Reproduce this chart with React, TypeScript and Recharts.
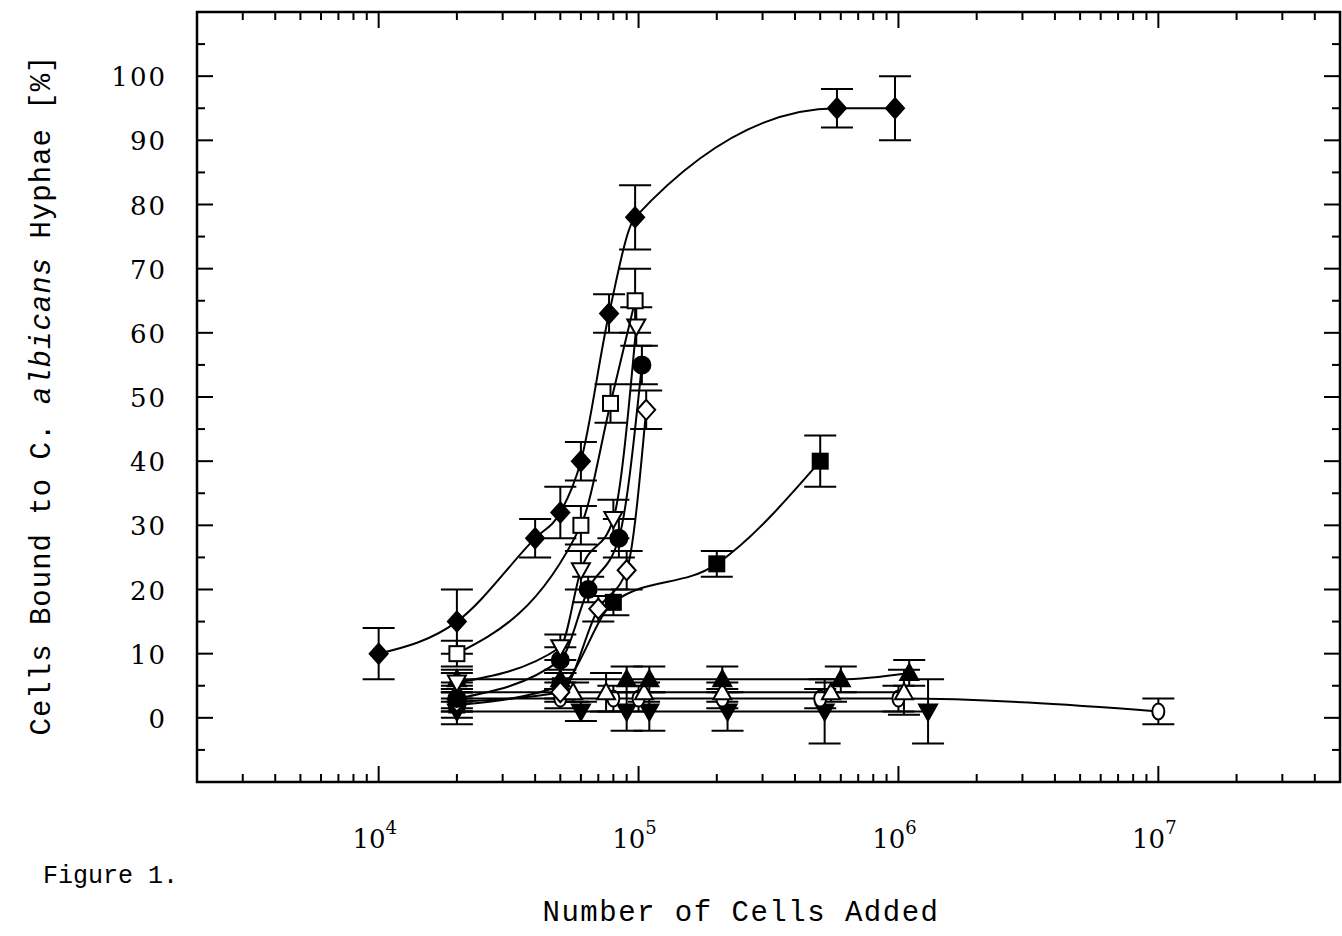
import React from "react";
import {
  ScatterChart,
  Scatter,
  XAxis,
  YAxis,
  ErrorBar,
  ReferenceArea,
} from "recharts";

const W = 1342;
const H = 936;
// plot frame in page pixels
const LEFT = 197;
const RIGHT = 1340;
const TOP = 12;
const BOTTOM = 782;
const PLOT_H = BOTTOM - TOP;

const X_DOMAIN = [2000, 5e7];
const Y_DOMAIN = [-10, 110];
const X_MAJOR = [1e4, 1e5, 1e6, 1e7];
const X_MAJOR_EXP = ["4", "5", "6", "7"];
const X_MINOR_MULT = [2, 3, 4, 5, 6, 7, 8, 9];
const X_DECADES = [1e3, 1e4, 1e5, 1e6, 1e7];
const Y_TICKS = [-5, 0, 5, 10, 15, 20, 25, 30, 35, 40, 45, 50, 55, 60, 65, 70, 75, 80, 85, 90, 95, 100, 105];
const Y_LABELS = [0, 10, 20, 30, 40, 50, 60, 70, 80, 90, 100];

const X_TICKS = [
  ...X_MAJOR,
  ...X_DECADES.flatMap((d) => X_MINOR_MULT.map((m) => m * d)),
].filter((v) => v >= X_DOMAIN[0] && v <= X_DOMAIN[1]);

// filled diamond
const fDiamondX = [1e4, 2e4, 4e4, 5e4, 6e4, 7.7e4, 9.7e4, 5.8e5, 9.7e5];
const fDiamondY = [10, 15, 28, 32, 40, 63, 78, 95, 95];
const fDiamondE = [4, 5, 3, 4, 3, 3, 5, 3, 5];
// open square
const oSquareX = [2e4, 6e4, 7.8e4, 9.7e4];
const oSquareY = [10, 30, 49, 65];
const oSquareE = [2, 3, 3, 5];
// open down triangle
const oDownX = [2e4, 5e4, 6e4, 8e4, 9.8e4];
const oDownY = [5.5, 11, 23, 31, 61];
const oDownE = [1.5, 2, 3, 3, 3];
// filled circle
const fCircleX = [2e4, 5e4, 6.4e4, 8.4e4, 1.03e5];
const fCircleY = [3, 9, 20, 28, 55];
const fCircleE = [2, 2, 2, 3, 3];
// open diamond
const oDiamondX = [2e4, 5e4, 7e4, 9e4, 1.07e5];
const oDiamondY = [2.5, 4, 17, 23, 48];
const oDiamondE = [1.5, 1.5, 2, 3, 3];
// filled square
const fSquareX = [2e4, 5e4, 8e4, 2e5, 5e5];
const fSquareY = [2, 5, 18, 24, 40];
const fSquareE = [2, 2, 2, 2, 4];
// filled up triangle
const fUpX = [2e4, 5e4, 9e4, 1.1e5, 2.1e5, 6e5, 1.1e6];
const fUpY = [6, 6, 6, 6, 6, 6, 7];
const fUpE = [1.5, 1.5, 2, 2, 2, 2, 2];
// open up triangle
const oUpX = [2e4, 5.6e4, 7.5e4, 1.05e5, 2.1e5, 5.5e5, 1.05e6];
const oUpY = [4, 4, 4, 4, 4, 4, 4];
const oUpE = [1.5, 1.5, 3, 1.5, 1.5, 1.5, 3.5];
// open circle
const oCircleX = [2e4, 5e4, 8e4, 1e5, 2.1e5, 5e5, 1e6, 1e7];
const oCircleY = [3, 3, 3, 3, 3, 3, 3, 1];
const oCircleE = [1.5, 1.5, 2, 2, 1.5, 1.5, 2, 2];
// filled down triangle
const fDownX = [2e4, 6e4, 9e4, 1.1e5, 2.2e5, 5.2e5, 1.3e6];
const fDownY = [1, 1, 1, 1, 1, 1, 1];
const fDownE = [2, 1.5, 3, 3, 3, 5, 5];

const toPoints = (xs: number[], ys: number[], es: number[]) =>
  xs.map((x, i) => ({ x, y: ys[i], err: es[i] }));

type Kind = "diamond" | "square" | "circle" | "ellipse" | "up" | "down";

function makeShape(kind: Kind, filled: boolean) {
  return (props: any) => {
    const { cx, cy } = props;
    if (cx == null || cy == null) return <g />;
    const common = { fill: filled ? "#000" : "#fff", stroke: "#000", strokeWidth: 2 };
    switch (kind) {
      case "diamond":
        return <polygon points={`${cx},${cy - 10} ${cx + 9},${cy} ${cx},${cy + 10} ${cx - 9},${cy}`} {...common} />;
      case "square":
        return <rect x={cx - 7.5} y={cy - 7.5} width={15} height={15} {...common} />;
      case "circle":
        return <circle cx={cx} cy={cy} r={8.5} {...common} />;
      case "ellipse":
        return <ellipse cx={cx} cy={cy} rx={6} ry={8} {...common} />;
      case "up":
        return <polygon points={`${cx},${cy - 9} ${cx + 9},${cy + 7} ${cx - 9},${cy + 7}`} {...common} />;
      case "down":
        return <polygon points={`${cx},${cy + 9} ${cx + 9},${cy - 7} ${cx - 9},${cy - 7}`} {...common} />;
    }
    return <g />;
  };
}

const SERIES = [
  { name: "fDown", data: toPoints(fDownX, fDownY, fDownE), kind: "down" as Kind, filled: true },
  { name: "oCircle", data: toPoints(oCircleX, oCircleY, oCircleE), kind: "ellipse" as Kind, filled: false },
  { name: "oUp", data: toPoints(oUpX, oUpY, oUpE), kind: "up" as Kind, filled: false },
  { name: "fUp", data: toPoints(fUpX, fUpY, fUpE), kind: "up" as Kind, filled: true },
  { name: "fSquare", data: toPoints(fSquareX, fSquareY, fSquareE), kind: "square" as Kind, filled: true },
  { name: "oDiamond", data: toPoints(oDiamondX, oDiamondY, oDiamondE), kind: "diamond" as Kind, filled: false },
  { name: "fCircle", data: toPoints(fCircleX, fCircleY, fCircleE), kind: "circle" as Kind, filled: true },
  { name: "oDown", data: toPoints(oDownX, oDownY, oDownE), kind: "down" as Kind, filled: false },
  { name: "oSquare", data: toPoints(oSquareX, oSquareY, oSquareE), kind: "square" as Kind, filled: false },
  { name: "fDiamond", data: toPoints(fDiamondX, fDiamondY, fDiamondE), kind: "diamond" as Kind, filled: true },
];

const NUM_FONT = "'DejaVu Serif', serif";
const TITLE_FONT = "'Liberation Mono', monospace";

function XTick(props: any) {
  const { x, y, payload } = props;
  const idx = X_MAJOR.indexOf(payload.value);
  const len = idx >= 0 ? 16 : 8;
  return (
    <g>
      <line x1={x} y1={y} x2={x} y2={y - len} stroke="#000" strokeWidth={2} />
      <line x1={x} y1={y - PLOT_H} x2={x} y2={y - PLOT_H + len} stroke="#000" strokeWidth={2} />
      {idx >= 0 && (
        <text x={x - 4} y={y + 66} textAnchor="middle" fontFamily={NUM_FONT} fontSize={26} fill="#000">
          10
          <tspan dy={-14} fontSize={18}>{X_MAJOR_EXP[idx]}</tspan>
        </text>
      )}
    </g>
  );
}

function YTick(props: any) {
  const { x, y, payload } = props;
  const major = payload.value % 10 === 0;
  const len = major ? 16 : 8;
  return (
    <g>
      <line x1={x} y1={y} x2={x + len} y2={y} stroke="#000" strokeWidth={2} />
      <line x1={RIGHT} y1={y} x2={RIGHT - len} y2={y} stroke="#000" strokeWidth={2} />
      {Y_LABELS.includes(payload.value) && (
        <text x={x - 30} y={y + 10} textAnchor="end" fontFamily={NUM_FONT} fontSize={26} letterSpacing={2} fill="#000">
          {payload.value}
        </text>
      )}
    </g>
  );
}

export default function App() {
  return (
    <div style={{ position: "absolute", left: 0, top: 0, width: W, height: H, background: "#fff" }}>
      <ScatterChart
        width={W}
        height={H}
        margin={{ top: TOP, right: W - RIGHT, left: LEFT - 60, bottom: 54 }}
      >
        <XAxis
          type="number"
          dataKey="x"
          scale="log"
          domain={X_DOMAIN}
          allowDataOverflow
          ticks={X_TICKS}
          interval={0}
          tickSize={0}
          tickMargin={0}
          tickLine={false}
          axisLine={false}
          height={100}
          tick={<XTick />}
          label={{
            content: () => (
              <text x={741} y={921} textAnchor="middle" fontFamily={TITLE_FONT} fontSize={29} letterSpacing={1.5} fill="#000">
                Number of Cells Added
              </text>
            ),
          }}
        />
        <YAxis
          type="number"
          dataKey="y"
          domain={Y_DOMAIN}
          allowDataOverflow
          ticks={Y_TICKS}
          interval={0}
          tickSize={0}
          tickMargin={0}
          tickLine={false}
          axisLine={false}
          width={60}
          tick={<YTick />}
          label={{
            content: () => (
              <text
                x={50}
                y={395}
                transform="rotate(-90, 50, 395)"
                textAnchor="middle"
                fontFamily={TITLE_FONT}
                fontSize={29}
                letterSpacing={1}
                fill="#000"
              >
                Cells Bound to C. <tspan fontStyle="italic">albicans</tspan> Hyphae [%]
              </text>
            ),
          }}
        />
        <ReferenceArea
          x1={X_DOMAIN[0]}
          x2={X_DOMAIN[1]}
          y1={Y_DOMAIN[0]}
          y2={Y_DOMAIN[1]}
          fill="none"
          stroke="#000"
          strokeWidth={2.5}
          ifOverflow="visible"
        />
        {SERIES.map((s) => (
          <Scatter
            key={s.name}
            name={s.name}
            data={s.data}
            line={{ stroke: "#000", strokeWidth: 2 }}
            lineJointType="monotoneX"
            shape={makeShape(s.kind, s.filled)}
            isAnimationActive={false}
          >
            <ErrorBar dataKey="err" direction="y" width={16} stroke="#000" strokeWidth={2} isAnimationActive={false} />
          </Scatter>
        ))}
      </ScatterChart>
      <div
        style={{
          position: "absolute",
          left: 43,
          top: 862,
          fontFamily: TITLE_FONT,
          fontSize: 25,
          color: "#000",
          whiteSpace: "nowrap",
        }}
      >
        Figure 1.
      </div>
    </div>
  );
}
